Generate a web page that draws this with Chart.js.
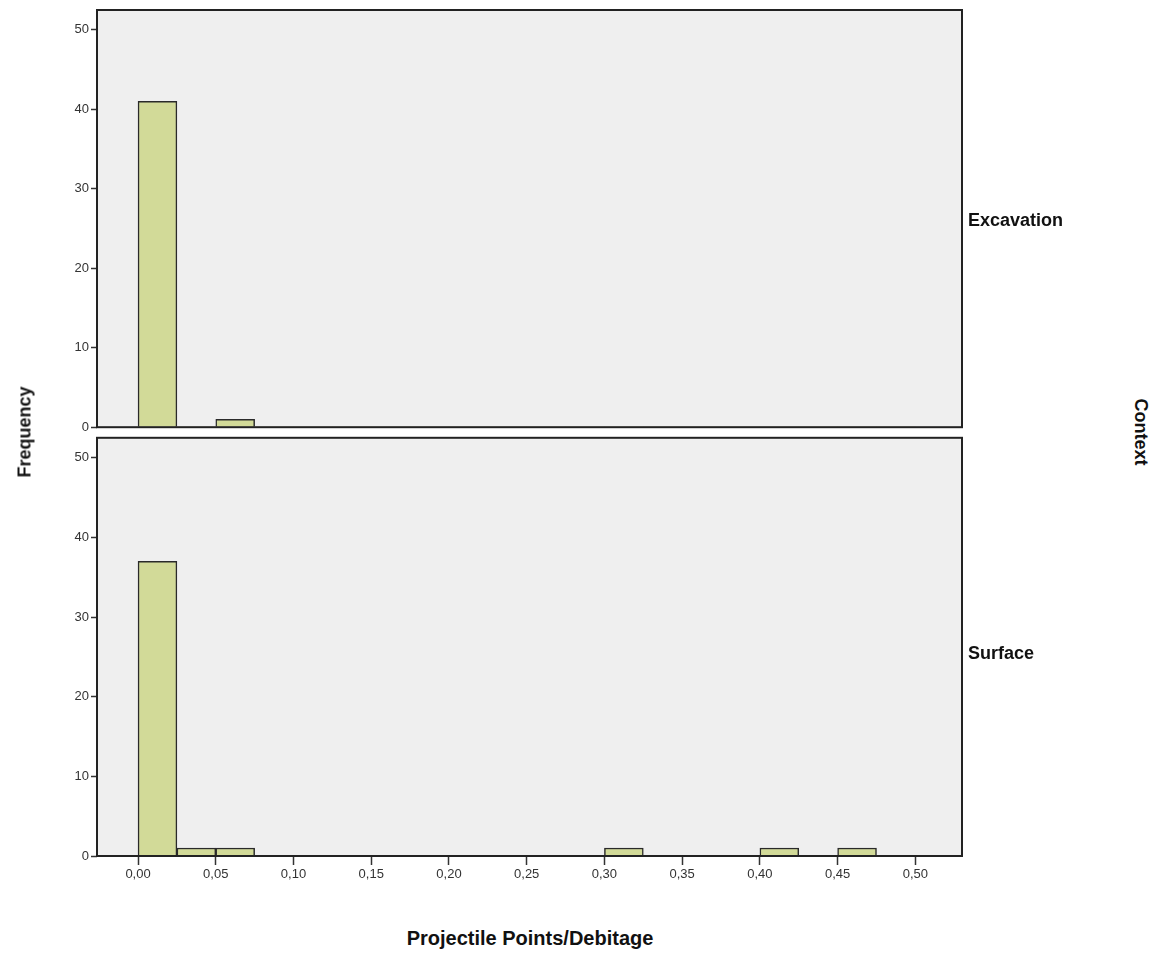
<!DOCTYPE html>
<html>
<head>
<meta charset="utf-8">
<script src="https://cdn.jsdelivr.net/npm/chart.js@4.4.1/dist/chart.umd.min.js"></script>
<style>
    body { margin: 0; background: #fff; font-family: "Liberation Sans", Arial, sans-serif; }
    #wrap { position: relative; width: 1167px; height: 955px; }
    canvas { position: absolute; left: 0; }
    .lbl { position: absolute; font-weight: bold; color: #111; white-space: nowrap; }
</style>
</head>
<body>
<div id="wrap">
    <canvas id="chartTop" style="top:0"></canvas>
    <canvas id="chartBottom" style="top:428px"></canvas>
    <div class="lbl" style="left:968px; top:210px; font-size:18px;">Excavation</div>
    <div class="lbl" style="left:968px; top:643px; font-size:18px;">Surface</div>
    <div class="lbl" style="left:1140px; top:432px; font-size:18px; transform:translate(-50%,-50%) rotate(90deg);">Context</div>
    <div class="lbl" style="left:25px; top:432px; font-size:18px; transform:translate(-50%,-50%) rotate(-90deg);">Frequency</div>
    <div class="lbl" style="left:530px; top:938px; font-size:20px; transform:translate(-50%,-50%);">Projectile Points/Debitage</div>
</div>
<script>
// bin centers (bin width 0.025)
const binCenters = [0.0125, 0.0375, 0.0625, 0.0875, 0.1125, 0.1375, 0.1625, 0.1875, 0.2125, 0.2375,
    0.2625, 0.2875, 0.3125, 0.3375, 0.3625, 0.3875, 0.4125, 0.4375, 0.4625, 0.4875];
const excavationCounts = [41, 0, 1, 0, 0, 0, 0, 0, 0, 0, 0, 0, 0, 0, 0, 0, 0, 0, 0, 0];
const surfaceCounts = [37, 1, 1, 0, 0, 0, 0, 0, 0, 0, 0, 0, 1, 0, 0, 0, 1, 0, 1, 0];
const xTickValues = [0, 0.05, 0.1, 0.15, 0.2, 0.25, 0.3, 0.35, 0.4, 0.45, 0.5];
const yTickValues = [0, 10, 20, 30, 40, 50];

const X_MIN = -0.0264, X_MAX = 0.530, Y_MAX = 52.5;

// panel background + frame
const panelPlugin = {
    id: 'panel',
    beforeDraw(chart) {
        const { ctx, chartArea: a } = chart;
        ctx.save();
        ctx.fillStyle = '#efefef';
        ctx.fillRect(a.left, a.top, a.right - a.left, a.bottom - a.top);
        ctx.restore();
    },
    afterDraw(chart) {
        const { ctx, chartArea: a } = chart;
        ctx.save();
        ctx.strokeStyle = '#222';
        ctx.lineWidth = 2;
        ctx.strokeRect(a.left, a.top, a.right - a.left, a.bottom - a.top);
        ctx.restore();
    }
};

function makeChart(id, counts, canvasHeight, padding, showX) {
    const canvas = document.getElementById(id);
    canvas.width = 1000;
    canvas.height = canvasHeight;
    return new Chart(canvas, {
        type: 'bar',
        data: {
            datasets: [{
                data: binCenters.map((x, i) => ({ x: x, y: counts[i] })),
                backgroundColor: '#d2da98',
                borderColor: '#2a2a2a',
                borderWidth: c => (c.raw && c.raw.y ? 1.5 : 0),
                barPercentage: 1,
                categoryPercentage: 1
            }]
        },
        options: {
            responsive: false,
            animation: false,
            layout: { padding: padding },
            plugins: { legend: { display: false }, tooltip: { enabled: false } },
            scales: {
                x: {
                    type: 'linear',
                    min: X_MIN,
                    max: X_MAX,
                    display: showX,
                    offset: false,
                    grid: { display: true, offset: false, drawOnChartArea: false, drawTicks: true, tickLength: 9, tickColor: '#333', tickWidth: 1.5 },
                    border: { display: false },
                    afterBuildTicks: s => { s.ticks = xTickValues.map(v => ({ value: v })); },
                    afterFit: s => { if (showX) s.height = 46; },
                    ticks: {
                        color: '#333',
                        font: { family: '"Liberation Sans", Arial', size: 13 },
                        maxRotation: 0,
                        padding: 2,
                        callback: v => v.toFixed(2).replace('.', ',')
                    }
                },
                y: {
                    min: 0,
                    max: Y_MAX,
                    grid: { display: true, drawOnChartArea: false, drawTicks: true, tickLength: 6, tickColor: '#333', tickWidth: 1.5 },
                    border: { display: false },
                    afterBuildTicks: s => { s.ticks = yTickValues.map(v => ({ value: v })); },
                    afterFit: s => { s.width = 97; },
                    ticks: {
                        color: '#333',
                        font: { family: '"Liberation Sans", Arial', size: 13 },
                        padding: 2
                    }
                }
            }
        },
        plugins: [panelPlugin]
    });
}

makeChart('chartTop', excavationCounts, 437, { top: 10, bottom: 0, left: 0, right: 38 }, false);
makeChart('chartBottom', surfaceCounts, 474, { top: 2, bottom: 0, left: 0, right: 38 }, true);
</script>
</body>
</html>
